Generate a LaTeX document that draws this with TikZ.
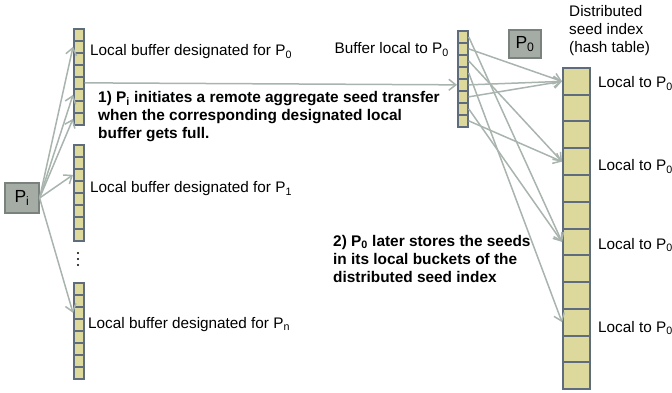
\documentclass[tikz,border=0pt]{standalone}
\usepackage{fontspec}
\setmainfont{Liberation Sans}
\usetikzlibrary{arrows.meta}

\definecolor{cellfill}{RGB}{221,217,157}
\definecolor{cellline}{RGB}{94,108,125}
\definecolor{linkgray}{RGB}{168,180,173}
\definecolor{procfill}{RGB}{165,172,166}
\definecolor{procline}{RGB}{122,130,125}

\tikzset{
  cell/.style={draw=cellline, fill=cellfill, line width=1.7pt, inner sep=0pt,
               anchor=north west, minimum width=10pt, minimum height=12pt},
  bigcell/.style={cell, line width=2pt, minimum width=27pt, minimum height=26.75pt},
  proc/.style={draw=procline, fill=procfill, line width=1.2pt, inner sep=0pt,
               font=\fontsize{17.5}{20}\selectfont},
  lbl/.style={anchor=base west, inner sep=0pt, font=\fontsize{15.3}{18}\selectfont},
  note/.style={anchor=north west, inner sep=0pt, align=left,
               font=\fontsize{15.4}{18}\selectfont\bfseries},
  link/.style={draw=linkgray, line width=1.5pt,
               -{Straight Barb[length=7pt,width=11pt]}},
}

\begin{document}
\begin{tikzpicture}[x=1pt,y=-1pt]
\useasboundingbox (0,0) rectangle (672,393);

% sender-side buffers, one per destination process
\foreach \i in {0,...,7} {
  \node[cell] (a\i) at (73,{28+12*\i}) {};
  \node[cell] (b\i) at (73,{144+12*\i}) {};
  \node[cell] (n\i) at (73,{282+12*\i}) {};
  \node[cell] (r\i) at (457,{30+12*\i}) {};
}
% distributed seed index
\foreach \i in {0,...,11} {
  \node[bigcell] (h\i) at (562,{67+26.75*\i}) {};
}

% vertical ellipsis between buffers
\foreach \y in {253,259,265} \fill (78,\y) circle (1.2pt);

% processes
\node[proc, minimum width=34pt, minimum height=30pt] (pi) at (22,198) {P\textsubscript{i}};
\node[proc, minimum width=32pt, minimum height=28pt] (p0) at (525,44) {P\textsubscript{0}};

% labels
\node[lbl] (la) at (90,55.5) {Local buffer designated for P\textsubscript{0}};
\node[lbl] (lb) at (90,193) {Local buffer designated for P\textsubscript{1}};
\node[lbl] (ln) at (88,328) {Local buffer designated for P\textsubscript{n}};
\node[lbl, anchor=base east] (lr) at (449,54) {Buffer local to P\textsubscript{0}};
\node[lbl] (ld1) at (569,17) {Distributed};
\node[lbl] (ld2) at (569,35) {seed index};
\node[lbl] (ld3) at (569,53) {(hash table)};
\node[lbl] (lh0) at (598,88) {Local to P\textsubscript{0}};
\node[lbl] (lh3) at (598,171) {Local to P\textsubscript{0}};
\node[lbl] (lh6) at (598,249) {Local to P\textsubscript{0}};
\node[lbl] (lh9) at (598,332) {Local to P\textsubscript{0}};

\node[note] (s1) at (98,90.8) {1) P\textsubscript{i} initiates a remote aggregate seed transfer\\
  when the corresponding designated local\\ buffer gets full.};
\node[note] (s2) at (333,234.8) {2) P\textsubscript{0} later stores the seeds\\
  in its local buckets of the\\ distributed seed index};

% P_i fills its designated buffers
\draw[link] (pi.east) -- (a1.west);
\draw[link] (pi.east) -- (a5.west);
\draw[link] (pi.east) -- (a7.west);
\draw[link] (pi.east) -- (b2.west);
\draw[link] (pi.east) -- (n2.west);

% aggregate transfer to P_0
\draw[link] (a4.east) -- (r4.west);

% P_0 scatters seeds into its buckets
\draw[link] (r1.east) -- (h0.west);
\draw[link] (r4.east) -- (h0.west);
\draw[link] (r5.east) -- (h0.west);
\draw[link] (r2.east) -- (h3.west);
\draw[link] (r7.east) -- (h3.west);
\draw[link] (r0.east) -- (h6.west);
\draw[link] (r6.east) -- (h6.west);
\draw[link] (r3.east) -- (h9.west);
\end{tikzpicture}
\end{document}
